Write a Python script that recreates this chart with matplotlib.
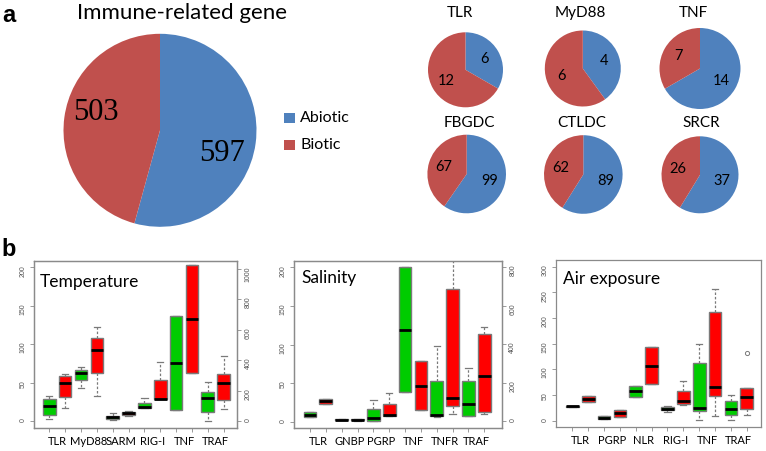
import numpy as np
import matplotlib
matplotlib.use("Agg")
import matplotlib.pyplot as plt
from matplotlib.patches import Rectangle

# ---------------- data ----------------
big_title = "Immune-related gene"
big_values = [597, 503]                 # Abiotic, Biotic
legend_labels = ["Abiotic", "Biotic"]

pie_names = ["TLR", "MyD88", "TNF", "FBGDC", "CTLDC", "SRCR"]
pie_abiotic = [6, 4, 14, 99, 89, 37]
pie_biotic = [12, 6, 7, 67, 62, 26]

# Temperature: boxes 1-6 on left axis, 7-12 on right axis (green/red pairs)
temp_genes = ["TLR", "MyD88", "SARM", "RIG-I", "TNF", "TRAF"]
temp_left_lo = [2.6, 17.4, 43, 32, 1.5, 6]
temp_left_q1 = [8.2, 31, 53, 63, 3, 8]
temp_left_med = [20, 50, 63, 92.4, 5, 10]
temp_left_q3 = [29, 58, 67, 107.6, 7, 11.5]
temp_left_hi = [33, 61, 70, 122, 10, 12.5]
temp_right_lo = [85, 142, 75, 314, 2, 77]
temp_right_q1 = [88, 142, 75, 314, 61, 136]
temp_right_med = [90, 147, 382, 671, 153, 248]
temp_right_q3 = [118, 267, 688, 1024, 189, 311]
temp_right_hi = [149, 390, 688, 1024, 259, 428]

# Salinity
sal_genes = ["TLR", "GNBP", "PGRP", "TNF", "TNFR", "TRAF"]
sal_left_lo = [6.5, 23, 2.2, 1.5, 0.8, 7]
sal_left_q1 = [6.5, 23, 2.2, 1.8, 1.3, 7.8]
sal_left_med = [9, 27, 2.6, 2.6, 4.8, 8.6]
sal_left_q3 = [12, 30, 2.9, 3.3, 16.4, 23]
sal_left_hi = [12, 30, 2.9, 3.6, 27.6, 37]
sal_right_lo = [153, 56, 21, 35, 28, 36]
sal_right_q1 = [153, 56, 24, 78, 28, 49]
sal_right_med = [472, 184, 30, 121, 88, 236]
sal_right_q3 = [800, 312, 210, 684, 207, 451]
sal_right_hi = [800, 312, 392, 900, 274, 490]

# Air exposure
air_genes = ["TLR", "PGRP", "NLR", "RIG-I", "TNF", "TRAF"]
air_lo = [27.5, 37, 2.6, 7.8, 45.5, 71, 17.5, 30, 1.3, 10, 2, 10.4]
air_q1 = [27.5, 37, 2.6, 7.8, 45.5, 71, 20, 33, 19, 48, 11.7, 23.4]
air_med = [28, 43, 5.8, 15, 57, 107, 23.4, 38, 24, 65.6, 22, 46]
air_q3 = [28.5, 49, 9.7, 20, 67, 143.5, 27, 58, 113, 211, 38, 63]
air_hi = [28.5, 49, 9.7, 20, 67, 143.5, 29, 77, 149, 256, 51, 63]
air_fliers = [[], [], [], [], [], [], [], [], [], [], [], [132]]

# ---------------- style ----------------
BLUE = "#4F81BD"
PRED = "#C0504D"
GREEN = "#00CC00"
RED = "#FF0000"
FRAME = "#8A8A8A"
EDGE = "#7A7A7A"
LABEL_GRAY = "#555555"
SANS = ["Lato", "DejaVu Sans"]

W, H = 766, 451
fig = plt.figure(figsize=(W / 100, H / 100), dpi=100)


def px_axes(x0, y0, x1, y1):
    return fig.add_axes([x0 / W, 1 - y1 / H, (x1 - x0) / W, (y1 - y0) / H])


def fig_text(x, y, s, **kw):
    fig.text(x / W, 1 - y / H, s, **kw)


def draw_pie(cx, cy, r, values, labeldist, fs, family, rots=None):
    ax = px_axes(cx - r, cy - r, cx + r, cy + r)
    wedges, texts = ax.pie(values, labels=[str(v) for v in values],
                           colors=[BLUE, PRED], startangle=90, counterclock=False,
                           labeldistance=labeldist,
                           wedgeprops=dict(linewidth=0),
                           textprops=dict(fontsize=fs, family=family, color="black",
                                          ha="center", va="center"))
    if rots:
        for t, rot in zip(texts, rots):
            a = np.deg2rad(-rot)
            x, y = t.get_position()
            t.set_position((x * np.cos(a) - y * np.sin(a), x * np.sin(a) + y * np.cos(a)))
    ax.set_xlim(-1, 1)
    ax.set_ylim(-1, 1)
    ax.set_aspect("equal")
    ax.axis("off")
    return wedges


# ---------------- panel a ----------------
fig_text(9, 15, "a", fontsize=17, fontweight="bold", family=["Liberation Sans", "DejaVu Sans"],
         ha="center", va="center")
fig_text(182, 13, big_title, fontsize=16, family=SANS, ha="center", va="center")
draw_pie(160, 130.3, 96.5, big_values, 0.69, 22, ["Liberation Serif", "DejaVu Serif"],
         rots=[13, 8])

# legend (manual squares + text)
ov = fig.add_axes([0, 0, 1, 1])
ov.set_xlim(0, W)
ov.set_ylim(H, 0)
ov.axis("off")
for i, (lab, col) in enumerate(zip(legend_labels, [BLUE, PRED])):
    yc = 118 + i * 27
    ov.add_patch(Rectangle((284, yc - 5.3), 11, 10.6, color=col, lw=0))
    ov.text(300, yc, lab, fontsize=11.5, family=SANS, ha="left", va="center")

small_layout = [  # cx, cy, r, title x, title y
    (465.5, 69.8, 37.5, 460, 13),
    (582.8, 68.5, 38.0, 580, 13),
    (700.0, 68.5, 40.5, 693, 13),
    (466.7, 174.0, 39.3, 469, 123),
    (583.3, 174.5, 39.3, 582, 123),
    (700.0, 174.8, 38.5, 701, 123),
]
for name, ab, bi, (cx, cy, r, tx, ty) in zip(pie_names, pie_abiotic, pie_biotic, small_layout):
    draw_pie(cx, cy, r, [ab, bi], 0.6, 10.5, SANS)
    fig_text(tx, ty, name, fontsize=11, family=SANS, ha="center", va="center")

# ---------------- panel b ----------------
fig_text(9, 249, "b", fontsize=17, fontweight="bold", family=["Liberation Sans", "DejaVu Sans"],
         ha="center", va="center")


def make_stats(lo, q1, med, q3, hi, fliers=None):
    out = []
    for i in range(len(med)):
        out.append(dict(whislo=lo[i], q1=q1[i], med=med[i], q3=q3[i], whishi=hi[i],
                        fliers=(fliers[i] if fliers else [])))
    return out


def draw_boxes(ax, stats, positions):
    bp = ax.bxp(stats, positions=positions, widths=0.8, capwidths=0.4,
                patch_artist=True, showfliers=True, manage_ticks=False,
                boxprops=dict(edgecolor=EDGE, linewidth=1.0),
                medianprops=dict(color="black", linewidth=2.0),
                whiskerprops=dict(color=EDGE, linewidth=0.9, linestyle=(0, (2.0, 1.5))),
                capprops=dict(color=EDGE, linewidth=0.9),
                flierprops=dict(marker="o", markersize=3, markerfacecolor="none",
                                markeredgecolor=EDGE, markeredgewidth=0.7))
    for p, pos in zip(bp["boxes"], positions):
        p.set_facecolor(GREEN if pos % 2 == 1 else RED)


def style_y(ax):
    ax.tick_params(axis="y", which="major", direction="out", length=3, width=0.6,
                   color=FRAME, labelsize=5, labelcolor=LABEL_GRAY, labelrotation=90,
                   pad=2.5)
    for t in ax.get_yticklabels():
        t.set_family(["Liberation Sans", "DejaVu Sans"])
    for s in ax.spines.values():
        s.set_color(FRAME)
        s.set_linewidth(0.9)


def panel(frame, xlim, ylim, genes, title, title_xy, stats_left, pos_left, yticks,
          stats_right=None, pos_right=None, ylim_right=None, yticks_right=None):
    x0, y0, x1, y1 = frame
    ax = px_axes(x0, y0, x1, y1)
    draw_boxes(ax, stats_left, pos_left)
    if stats_right is not None:
        ax2 = ax.twinx()
        draw_boxes(ax2, stats_right, pos_right)
        ax2.set_ylim(*ylim_right)
        ax2.set_yticks(yticks_right)
        ax2.set_yticklabels([str(v) for v in yticks_right])
        style_y(ax2)
    ax.set_xlim(*xlim)
    ax.set_ylim(*ylim)
    ax.set_yticks(yticks)
    ax.set_yticklabels([str(v) for v in yticks])
    style_y(ax)
    ax.set_xticks(np.arange(1, 13))
    ax.set_xticklabels([])
    ax.tick_params(axis="x", which="major", direction="out", length=3, width=0.6, color=FRAME)
    centers = np.arange(1.5, 12.5, 2)
    ax.set_xticks(centers, minor=True)
    ax.set_xticklabels(genes, minor=True, fontsize=8, family=SANS)
    ax.tick_params(axis="x", which="minor", length=0, pad=6.3)
    tx, ty = title_xy
    ax.text((tx - x0) / (x1 - x0), 1 - (ty - y0) / (y1 - y0), title, transform=ax.transAxes,
            fontsize=12.5, family=SANS, ha="left", va="center")
    return ax


panel((34, 261, 237, 427.7), (0.035, 12.84), (-8.7, 208.2), temp_genes, "Temperature", (40, 282),
      make_stats(temp_left_lo, temp_left_q1, temp_left_med, temp_left_q3, temp_left_hi),
      list(range(1, 7)), [0, 50, 100, 150, 200],
      make_stats(temp_right_lo, temp_right_q1, temp_right_med, temp_right_q3, temp_right_hi),
      list(range(7, 13)), (-44, 1052), [0, 200, 400, 600, 800, 1000])

panel((294.3, 261, 501.7, 427.7), (0.01, 13.1), (-7.8, 208.2), sal_genes, "Salinity", (301.7, 278),
      make_stats(sal_left_lo, sal_left_q1, sal_left_med, sal_left_q3, sal_left_hi),
      list(range(1, 7)), [0, 50, 100, 150, 200],
      make_stats(sal_right_lo, sal_right_q1, sal_right_med, sal_right_q3, sal_right_hi),
      list(range(7, 13)), (-35, 832), [0, 200, 400, 600, 800])

panel((556, 260, 760.7, 426.7), (-0.03, 12.88), (-11.7, 313), air_genes, "Air exposure", (563, 279),
      make_stats(air_lo, air_q1, air_med, air_q3, air_hi, air_fliers),
      list(range(1, 13)), [0, 50, 100, 150, 200, 250, 300])

fig.savefig("out.png", dpi=100)
